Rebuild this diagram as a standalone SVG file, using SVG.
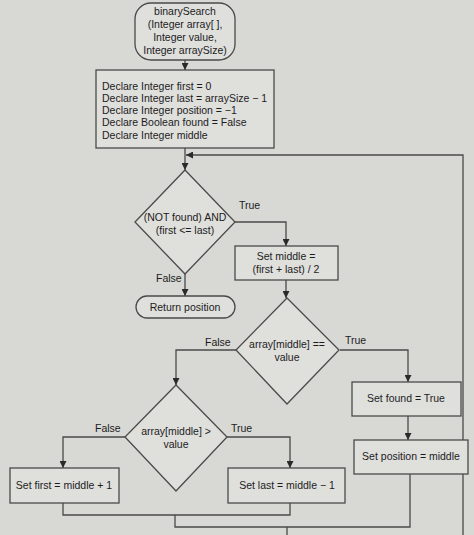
<svg xmlns="http://www.w3.org/2000/svg" width="474" height="535" viewBox="0 0 474 535">
<style>
.shape{fill:#dfdfdc;stroke:#4a4a4a;stroke-width:1.3}
.line{fill:none;stroke:#4a4a4a;stroke-width:1.3}
text{font-family:"Liberation Sans",Arial,sans-serif;font-size:10.5px;fill:#1c1c1c}
.c{text-anchor:middle}
</style>
<defs>
<marker id="ah" viewBox="0 0 10 10" refX="10" refY="5" markerWidth="7" markerHeight="7" orient="auto" markerUnits="userSpaceOnUse">
<path d="M0,0 L10,5 L0,10 z" fill="#2a2a2a"/>
</marker>
</defs>
<rect width="474" height="535" fill="#d8d8d5"/>
<g id="connectors">
<line class="line" x1="185" y1="60" x2="185" y2="70" marker-end="url(#ah)"/>
<line class="line" x1="185" y1="148" x2="185" y2="170" marker-end="url(#ah)"/>
<polyline class="line" points="463,535 463,155 186,155" marker-end="url(#ah)"/>
<polyline class="line" points="235,222 286,222 286,246" marker-end="url(#ah)"/>
<line class="line" x1="185" y1="274" x2="185" y2="296" marker-end="url(#ah)"/>
<line class="line" x1="286" y1="280" x2="286" y2="298" marker-end="url(#ah)"/>
<polyline class="line" points="236,350 176,350 176,385" marker-end="url(#ah)"/>
<polyline class="line" points="340,350 408,350 408,382" marker-end="url(#ah)"/>
<line class="line" x1="408" y1="416" x2="408" y2="440" marker-end="url(#ah)"/>
<polyline class="line" points="125,437 63,437 63,468" marker-end="url(#ah)"/>
<polyline class="line" points="227,437 290,437 290,468" marker-end="url(#ah)"/>
<polyline class="line" points="63,503 63,515 290,515 290,503"/>
<polyline class="line" points="175,515 175,527 410,527 410,474"/>
<line class="line" x1="287" y1="527" x2="287" y2="535"/>
<text x="239" y="209">True</text>
<text x="156" y="282">False</text>
<text x="205" y="346">False</text>
<text x="345" y="344">True</text>
<text x="95" y="432">False</text>
<text x="231" y="432">True</text>
</g>
<g id="start">
<rect class="shape" x="135" y="3" width="100" height="57" rx="16"/>
<text class="c" x="185" y="15">binarySearch</text>
<text class="c" x="185" y="28">(Integer array[ ],</text>
<text class="c" x="185" y="41">Integer value,</text>
<text class="c" x="185" y="54">Integer arraySize)</text>
</g>
<g id="declare">
<rect class="shape" x="96" y="70" width="178" height="78"/>
<text x="102" y="90">Declare Integer first = 0</text>
<text x="102" y="102">Declare Integer last = arraySize − 1</text>
<text x="102" y="114">Declare Integer position = −1</text>
<text x="102" y="126">Declare Boolean found = False</text>
<text x="102" y="139">Declare Integer middle</text>
</g>
<g id="loopCondition">
<polygon class="shape" points="185,170 235,222 185,274 135,222"/>
<text class="c" x="185" y="221">(NOT found) AND</text>
<text class="c" x="185" y="234">(first &lt;= last)</text>
</g>
<g id="setMiddle">
<rect class="shape" x="235" y="246" width="103" height="34"/>
<text class="c" x="286" y="260">Set middle =</text>
<text class="c" x="286" y="273">(first + last) / 2</text>
</g>
<g id="returnPosition">
<rect class="shape" x="136" y="296" width="99" height="22" rx="11"/>
<text class="c" x="185" y="311">Return position</text>
</g>
<g id="equalCheck">
<polygon class="shape" points="287,298 339,350 287,404 236,350"/>
<text class="c" x="287" y="348">array[middle] ==</text>
<text class="c" x="287" y="361">value</text>
</g>
<g id="setFound">
<rect class="shape" x="352" y="382" width="109" height="34"/>
<text class="c" x="406" y="402">Set found = True</text>
</g>
<g id="setPosition">
<rect class="shape" x="354" y="440" width="114" height="34"/>
<text class="c" x="411" y="460">Set position = middle</text>
</g>
<g id="greaterCheck">
<polygon class="shape" points="176,385 227,437 176,491 125,437"/>
<text class="c" x="176" y="435">array[middle] &gt;</text>
<text class="c" x="176" y="448">value</text>
</g>
<g id="setFirst">
<rect class="shape" x="10" y="468" width="109" height="35"/>
<text class="c" x="64" y="489">Set first = middle + 1</text>
</g>
<g id="setLast">
<rect class="shape" x="228" y="468" width="117" height="35"/>
<text class="c" x="287" y="489">Set last = middle − 1</text>
</g>
</svg>
